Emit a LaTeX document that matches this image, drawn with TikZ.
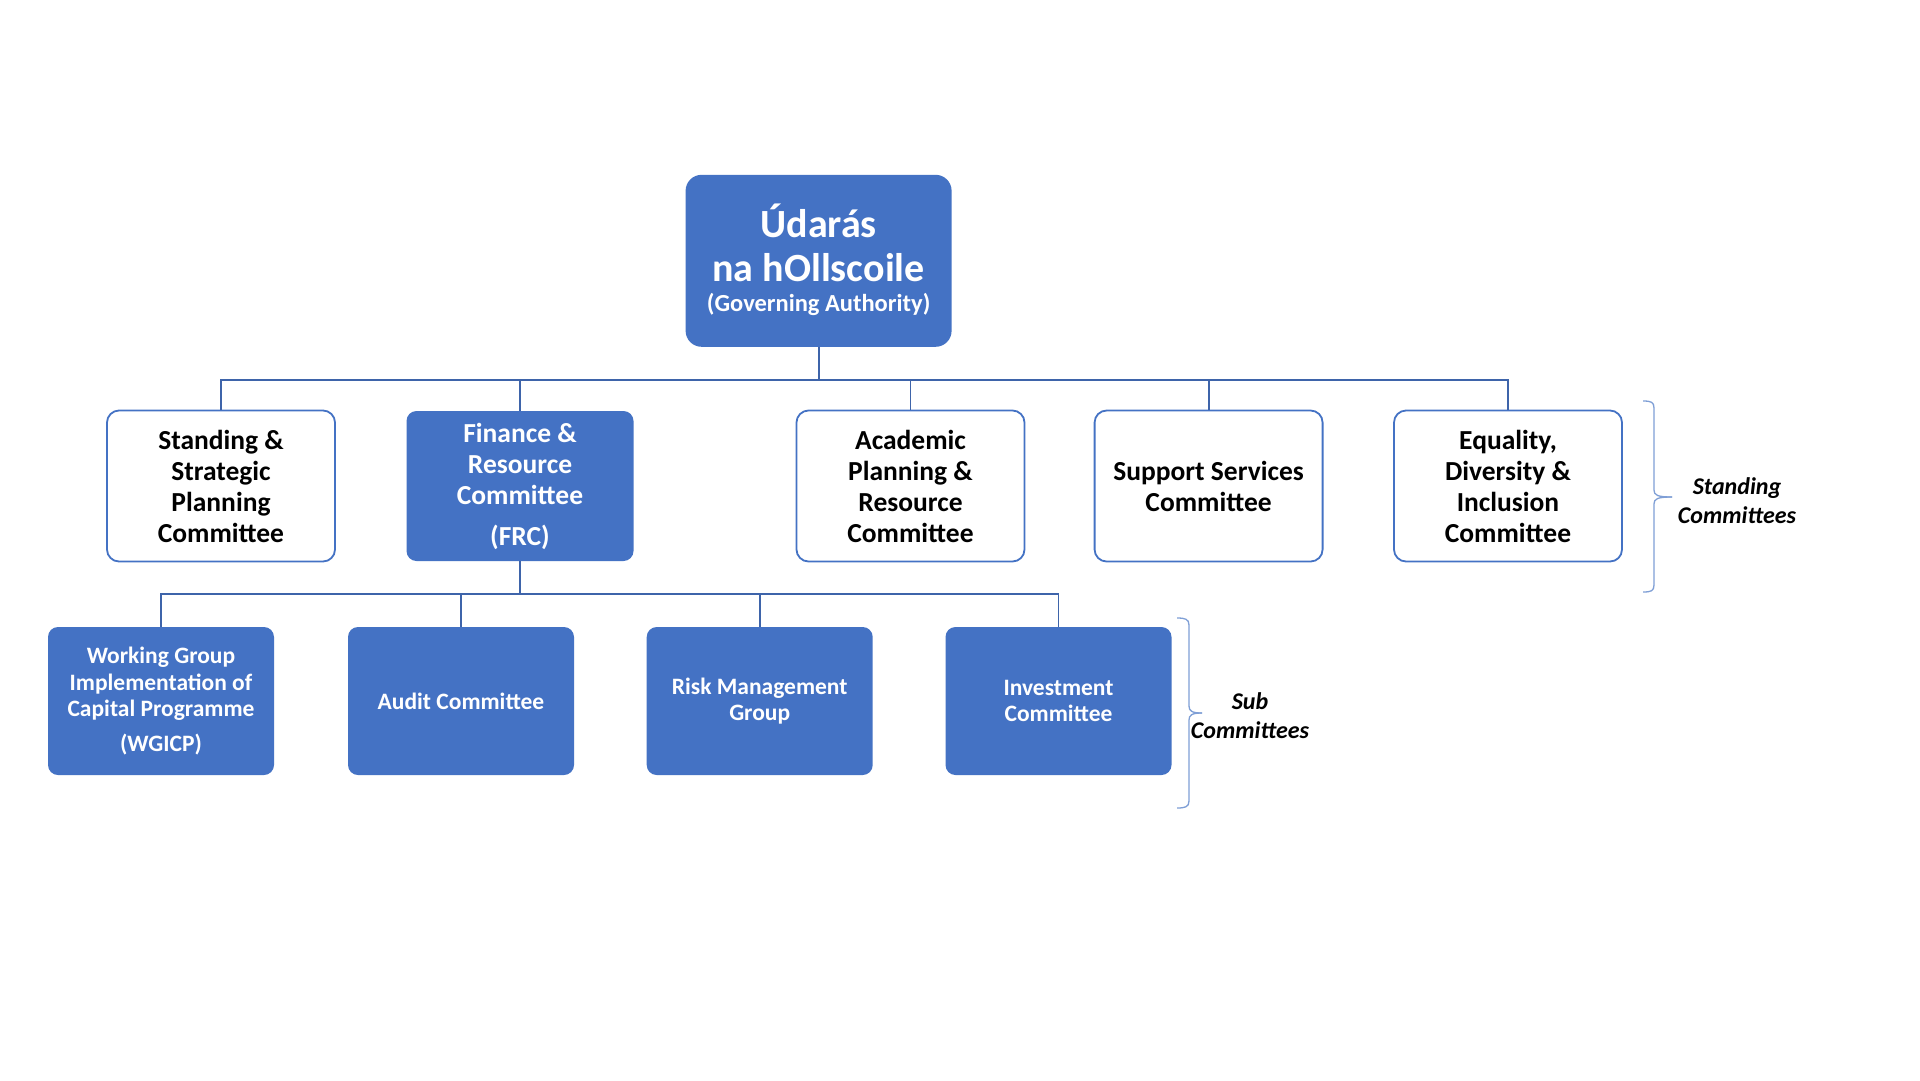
\documentclass[tikz,border=0pt]{standalone}
\usepackage{fontspec}
\setmainfont{Carlito}
\definecolor{boxblue}{HTML}{4472C4}
\definecolor{linkblue}{HTML}{3E64AA}
\definecolor{bracecol}{HTML}{7F9FD6}
\begin{document}
\begin{tikzpicture}[x=1pt,y=-1pt,
  filledbox/.style={draw=none,fill=boxblue,rounded corners=10pt,text=white,align=center,font=\bfseries},
  openbox/.style={draw=boxblue,line width=1.8pt,fill=white,rounded corners=12pt,text=black,align=center,font=\bfseries},
  rowtwo/.style={minimum width=228pt,minimum height=151pt,inner sep=0pt},
  rowthree/.style={minimum width=226pt,minimum height=148pt,inner sep=0pt},
  link/.style={draw=linkblue,line width=1.8pt},
  brace/.style={draw=bracecol,line width=1.3pt},
  sidelabel/.style={align=center,font=\bfseries\itshape\fontsize{24}{29}\selectfont,inner sep=0pt}
]
\useasboundingbox[fill=white] (0,0) rectangle (1920,1080);

% top box
\node[filledbox,rounded corners=16pt,minimum width=266pt,minimum height=172pt,inner sep=0pt,font=\bfseries\fontsize{40}{44}\selectfont] (top) at (818.6,260.8)
  {\rule{0pt}{0pt}\\[-12pt]Údarás\\na hOllscoile\\[-14pt]\fontsize{24.5}{26}\selectfont (Governing Authority)};

% row two
\node[openbox,rowtwo,font=\bfseries\fontsize{27.5}{31}\selectfont] (ssp) at (221,486) {Standing \&\\Strategic\\Planning\\Committee};
\node[filledbox,rowtwo,minimum width=227pt,minimum height=150pt,font=\bfseries\fontsize{27.5}{31}\selectfont] (frc) at (520,486) {Finance \&\\Resource\\Committee\\[10pt](FRC)};
\node[openbox,rowtwo,font=\bfseries\fontsize{27.5}{31}\selectfont] (apr) at (910.5,486) {Academic\\Planning \&\\Resource\\Committee};
\node[openbox,rowtwo,font=\bfseries\fontsize{27.5}{31}\selectfont] (ssc) at (1208.6,486) {Support Services\\Committee};
\node[openbox,rowtwo,font=\bfseries\fontsize{27.5}{31}\selectfont] (edi) at (1508,486) {Equality,\\Diversity \&\\Inclusion\\Committee};

% row three
\node[filledbox,rowthree,font=\bfseries\fontsize{23.5}{26.5}\selectfont] (wg) at (161,701) {Working Group\\Implementation of\\Capital Programme\\[8pt](WGICP)};
\node[filledbox,rowthree,font=\bfseries\fontsize{23.5}{26.5}\selectfont] (aud) at (461,701) {Audit Committee};
\node[filledbox,rowthree,font=\bfseries\fontsize{23.5}{26}\selectfont] (risk) at (759.7,701) {Risk Management\\Group};
\node[filledbox,rowthree,font=\bfseries\fontsize{23.5}{26}\selectfont] (inv) at (1058.5,701) {Investment\\Committee};

% buses
\coordinate (busA) at (818.6,379.6);
\coordinate (busB) at (520,594);

\foreach \n in {ssp,frc,apr,ssc,edi}
  \draw[link] (\n.north) -- (\n.north |- busA) -| (top.south);
\foreach \n in {wg,aud,risk,inv}
  \draw[link] (\n.north) -- (\n.north |- busB) -| (frc.south);

% braces
\draw[brace] (1643,401) .. controls (1651,401) and (1654,402) .. (1654,408) -- (1654,490)
  .. controls (1654,495) and (1657,497) .. (1672,497);
\draw[brace] (1643,592) .. controls (1651,592) and (1654,591) .. (1654,585) -- (1654,504)
  .. controls (1654,499) and (1657,497) .. (1672,497);
\draw[brace] (1177,618) .. controls (1185,618) and (1189,619) .. (1189,625) -- (1189,706)
  .. controls (1189,711) and (1192,713) .. (1202,713);
\draw[brace] (1177,808) .. controls (1185,808) and (1189,807) .. (1189,801) -- (1189,720)
  .. controls (1189,715) and (1192,713) .. (1202,713);

\node[sidelabel] (stlab) at (1737,501) {Standing\\Committees};
\node[sidelabel] (sublab) at (1250,716) {Sub\\Committees};
\end{tikzpicture}
\end{document}
